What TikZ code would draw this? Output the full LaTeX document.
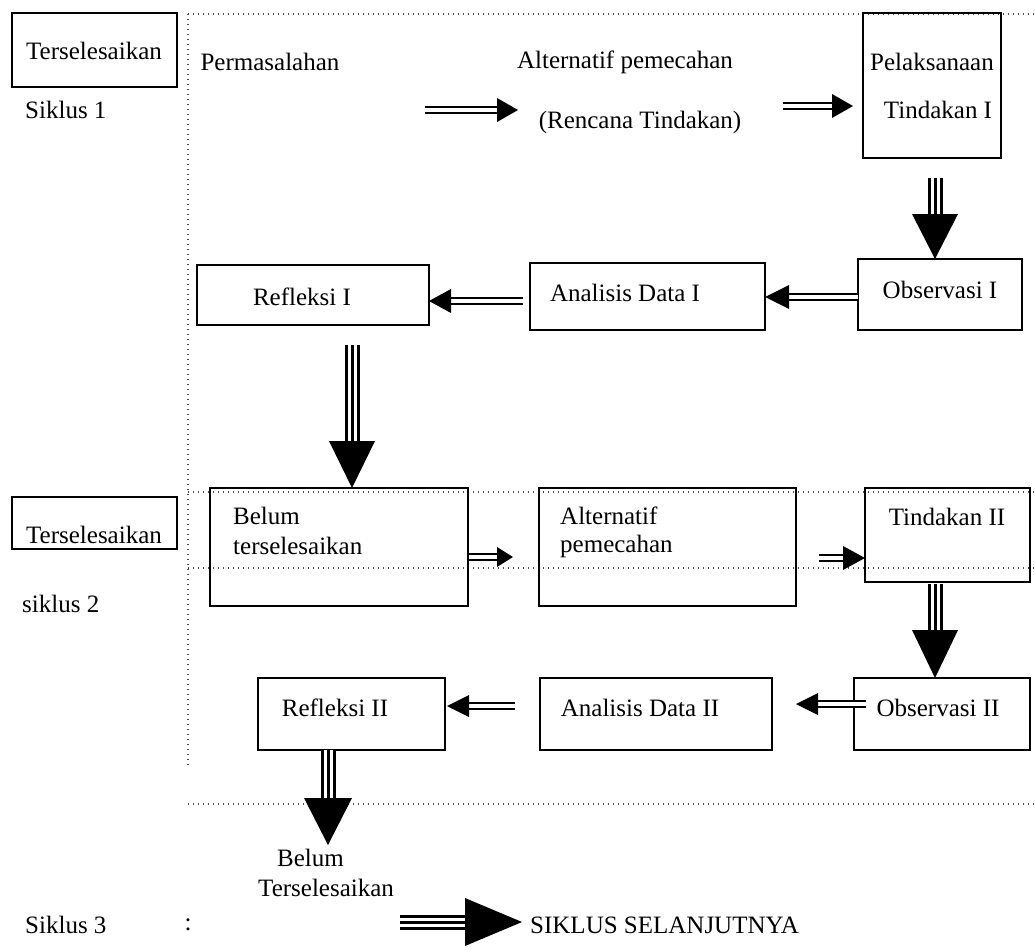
\documentclass[tikz,border=0pt]{standalone}
\usepackage{fontspec}
\setmainfont{Liberation Serif}
\usetikzlibrary{calc,decorations.markings}
\newcommand{\boxat}[5]{\node[boxst, anchor=north west, minimum width={(#4-#2)*1pt}, minimum height={(#5-#3)*1pt}] (#1) at (#2,#3) {};}
\newcommand{\arr}[5]{\draw[#5] (#1) -- ($(#2)!#3pt!(#1)$); \path[headst={#3}{#4}] (#1) -- (#2);}
\begin{document}
\begin{tikzpicture}[x=1pt,y=-1pt,
  font=\fontsize{25}{29}\selectfont,
  boxst/.style={draw, line width=1.3pt, inner sep=0pt, outer sep=0pt},
  dots/.style={line width=1.3pt, black!70, dash pattern=on 1.3pt off 3.7pt},
  dbl/.style={line width=2pt, double=white, double distance=3.2pt},
  trip/.style={line width=3pt, preaction={draw, line width=15pt}, preaction={draw=white, line width=9pt}},
  headst/.style 2 args={postaction={decorate,decoration={markings,mark=at position 1 with {\fill (0,0) -- (-#1,#2) -- (-#1,-#2) -- cycle;}}}},
  lbl/.style={inner sep=0pt, anchor=center},
  lblw/.style={inner sep=0pt, anchor=west}]
\useasboundingbox (0,0) rectangle (1035,950);
\fill[white] (0,0) rectangle (1035,950);
% dotted frame
\draw[dots] (188,14) -- (1035,14);
\draw[dots] (188,14) -- (188,765);
\draw[dots] (188,492) -- (1035,492);
\draw[dots] (188,568) -- (1035,568);
\draw[dots] (188,804) -- (1035,804);
% boxes
\boxat{t1}{12}{13}{177}{87}
\boxat{pel}{863}{13}{1001}{158}
\boxat{obs1}{858}{259}{1022}{330}
\boxat{ana1}{530}{263}{765}{330}
\boxat{ref1}{197}{265}{429}{325}
\boxat{t2}{12}{497}{177}{549}
\boxat{bel}{210}{488}{468}{606}
\boxat{alt2}{539}{488}{796}{606}
\boxat{tin2}{865}{488}{1030}{582}
\boxat{ref2}{258}{678}{445}{750}
\boxat{ana2}{540}{678}{772}{750}
\boxat{obs2}{854}{678}{1030}{750}
% texts
\node[lbl] (tx1) at (94,51) {Terselesaikan};
\node[lblw] (sik1) at (25,110) {Siklus 1};
\node[lbl] (perm) at (270,62) {Permasalahan};
\node[lbl] (altp) at (625,62) {Alternatif pemecahan};
\node[lbl] (renc) at (640,122) {(Rencana Tindakan)};
\node[lbl] (pelt) at (932,62) {Pelaksanaan};
\node[lbl] (tin1) at (938,110) {Tindakan I};
\node[lbl] (obs1t) at (940,290) {Observasi I};
\node[lbl] (ana1t) at (625,293) {Analisis Data I};
\node[lbl] (ref1t) at (302,297) {Refleksi I};
\node[lbl] (tx2) at (94,535) {Terselesaikan};
\node[lblw] (sik2) at (22,604) {siklus 2};
\node[lblw] (belt) at (233,516) {Belum};
\node[lblw] (tert) at (233,546) {terselesaikan};
\node[lblw] (alt2t) at (560,516) {Alternatif};
\node[lblw] (pem2t) at (560,546) {pemecahan};
\node[lbl] (tin2t) at (947,517) {Tindakan II};
\node[lbl] (ref2t) at (335,708) {Refleksi II};
\node[lbl] (ana2t) at (640,708) {Analisis Data II};
\node[lbl] (obs2t) at (938,708) {Observasi II};
\node[lblw] (bel3) at (277,858) {Belum};
\node[lblw] (ter3) at (258,888) {Terselesaikan};
\node[lblw] (sik3) at (25,925) {Siklus 3};
\node[lbl] (colon) at (188,925) {:};
\node[lblw] (next) at (530,925) {SIKLUS SELANJUTNYA};
% arrow end points
\coordinate (a1s) at (425,110); \coordinate (a1e) at (518,110);
\coordinate (a2s) at (783,106); \coordinate (a2e) at (853,106);
\coordinate (a3s) at (935,178); \coordinate (a3e) at (935,259);
\coordinate (a4s) at (858,297); \coordinate (a4e) at (ana1.east |- 0,297);
\coordinate (a5s) at (523,301); \coordinate (a5e) at (ref1.east |- 0,301);
\coordinate (a6s) at (352,345); \coordinate (a6e) at (352,488);
\coordinate (a7s) at (469,557); \coordinate (a7e) at (513,557);
\coordinate (a8s) at (819,558); \coordinate (a8e) at (tin2.west |- 0,558);
\coordinate (a9s) at (935,584); \coordinate (a9e) at (935,678);
\coordinate (a10s) at (866,704); \coordinate (a10e) at (796,704);
\coordinate (a11s) at (515,706); \coordinate (a11e) at (447,706);
\coordinate (a12s) at (328,750); \coordinate (a12e) at (328,845);
\coordinate (a13s) at (400,922); \coordinate (a13e) at (522,922);
% arrows
\arr{a1s}{a1e}{21}{12}{dbl}
\arr{a2s}{a2e}{21}{12}{dbl}
\arr{a3s}{a3e}{45}{23}{trip}
\arr{a4s}{a4e}{24}{12}{dbl}
\arr{a5s}{a5e}{22}{12}{dbl}
\arr{a6s}{a6e}{47}{23}{trip}
\arr{a7s}{a7e}{16}{10}{dbl}
\arr{a8s}{a8e}{22}{12}{dbl}
\arr{a9s}{a9e}{48}{23}{trip}
\arr{a10s}{a10e}{22}{11}{dbl}
\arr{a11s}{a11e}{22}{11}{dbl}
\arr{a12s}{a12e}{47}{24}{trip}
\arr{a13s}{a13e}{57}{24}{trip}
\end{tikzpicture}
\end{document}
